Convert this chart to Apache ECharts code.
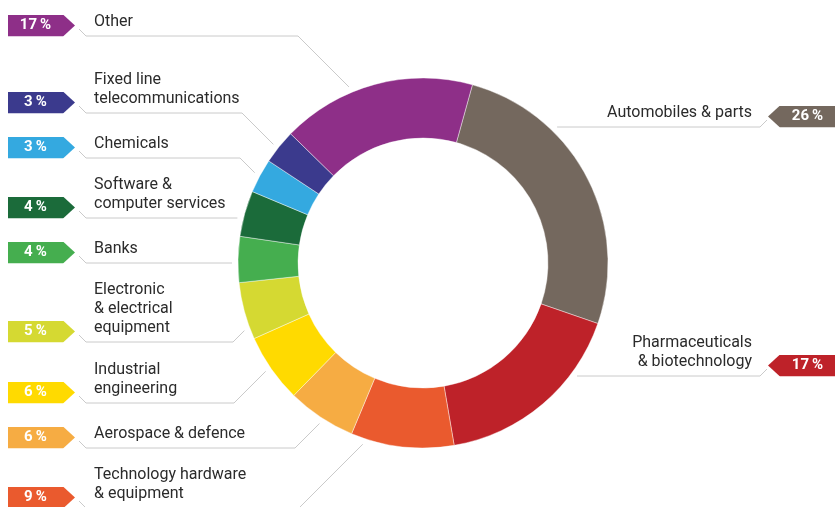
<!DOCTYPE html>
<html>
<head>
<meta charset="UTF-8">
<title>Sector breakdown</title>
<style>
  body { margin: 0; padding: 0; background: #fff; }
  #main { width: 835px; height: 507px; }
</style>
</head>
<body>
<div id="main"></div>
<script src="https://cdn.jsdelivr.net/npm/echarts@6/dist/echarts.min.js"></script>
<script>
// sectors, clockwise from the top of the ring
var sectors = [
    'Automobiles & parts',
    'Pharmaceuticals\n& biotechnology',
    'Technology hardware\n& equipment',
    'Aerospace & defence',
    'Industrial\nengineering',
    'Electronic\n& electrical\nequipment',
    'Banks',
    'Software &\ncomputer services',
    'Chemicals',
    'Fixed line\ntelecommunications',
    'Other'
];
var shares = [26, 17, 9, 6, 6, 5, 4, 4, 3, 3, 17];
var colors = ['#74685e', '#be2229', '#ea5a2e', '#f6ac43', '#ffda00', '#d5d932',
              '#45ae4f', '#1b6b3a', '#34a9e0', '#3b3a8d', '#8e2f88'];

// label placement: y of the underline, x where the leader bends towards the ring
var spots = [
    { side: 'right', y: 127 },
    { side: 'right', y: 376 },
    { side: 'left', y: 508, knee: 299 },
    { side: 'left', y: 448, knee: 295 },
    { side: 'left', y: 403, knee: 234 },
    { side: 'left', y: 342, knee: 233 },
    { side: 'left', y: 263 },
    { side: 'left', y: 218 },
    { side: 'left', y: 158, knee: 240 },
    { side: 'left', y: 113, knee: 242 },
    { side: 'left', y: 36, knee: 298 }
];

var cx = 423, cy = 263, rIn = 125, rOut = 185, gap = 6;
var font = 'Roboto, "Liberation Sans", sans-serif';

function leader(s) {
    var R = rOut + gap;
    var right = s.side === 'right';
    var pts = [];
    if (s.knee == null) {
        var dx = Math.sqrt(R * R - (s.y - cy) * (s.y - cy));
        pts.push([right ? cx + dx : cx - dx, s.y]);
    } else {
        // 45 degree run from the bend into the ring
        var sy = s.y < cy ? 1 : -1;
        var ax = s.knee - cx, ay = s.y - cy;
        var b = 2 * (ax + sy * ay), c = ax * ax + ay * ay - R * R;
        var t = (-b - Math.sqrt(b * b - 8 * c)) / 4;
        pts.push([s.knee + t, s.y + sy * t]);
        pts.push([s.knee, s.y]);
    }
    if (right) {
        pts.push([760, s.y], [767, s.y - 7]);
    } else {
        pts.push([86, s.y], [79, s.y - 7]);
    }
    return pts;
}

function badge(color, right) {
    var poly = right ? '12,0 67,0 67,22 12,22 0,11' : '0,0 55,0 67,11 55,22 0,22';
    var svg = "<svg xmlns='http://www.w3.org/2000/svg' width='67' height='22'>" +
        "<polygon points='" + poly + "' fill='" + color + "'/></svg>";
    return 'data:image/svg+xml;charset=utf-8,' + encodeURIComponent(svg);
}

var chart = echarts.init(document.getElementById('main'));

var option = {
    backgroundColor: '#fff',
    animation: false,
    series: [
        {
            type: 'pie',
            center: [cx, cy],
            radius: [rIn, rOut],
            startAngle: 74.5,
            avoidLabelOverlap: false,
            itemStyle: { borderColor: 'rgba(255,255,255,0.7)', borderWidth: 0.6 },
            emphasis: { disabled: true },
            label: {
                show: true,
                formatter: '{b}',
                color: '#2b2b2b',
                fontFamily: font,
                fontSize: 16,
                lineHeight: 19
            },
            labelLine: {
                show: true,
                lineStyle: { color: '#cacaca', width: 1 }
            },
            labelLayout: function (p) {
                var s = spots[p.dataIndex];
                var right = s.side === 'right';
                return {
                    x: right ? 752 : 94,
                    y: s.y - 5,
                    align: right ? 'right' : 'left',
                    verticalAlign: 'bottom',
                    labelLinePoints: leader(s)
                };
            },
            data: sectors.map(function (n, i) {
                return { name: n, value: shares[i], itemStyle: { color: colors[i] } };
            })
        },
        {
            // percentage tags at the page edges
            type: 'pie',
            silent: true,
            center: [cx, cy],
            radius: [rIn, rOut],
            startAngle: 74.5,
            avoidLabelOverlap: false,
            itemStyle: { color: 'transparent' },
            label: {
                show: true,
                formatter: '{p|{c}\u2009%}',
                rich: {
                    p: {
                        width: 55,
                        height: 22,
                        lineHeight: 22,
                        align: 'center',
                        color: '#fff',
                        fontFamily: font,
                        fontWeight: 'bold',
                        fontSize: 15
                    }
                }
            },
            labelLine: { show: false },
            labelLayout: function (p) {
                var s = spots[p.dataIndex];
                var right = s.side === 'right';
                return {
                    x: right ? 835 : 8,
                    y: s.y + 0.5,
                    align: right ? 'right' : 'left',
                    verticalAlign: 'bottom'
                };
            },
            data: sectors.map(function (n, i) {
                var right = spots[i].side === 'right';
                return {
                    name: n,
                    value: shares[i],
                    label: {
                        backgroundColor: { image: badge(colors[i], right) },
                        padding: right ? [0, 0, 0, 12] : [0, 12, 0, 0]
                    }
                };
            })
        }
    ]
};

chart.setOption(option);
</script>
</body>
</html>
